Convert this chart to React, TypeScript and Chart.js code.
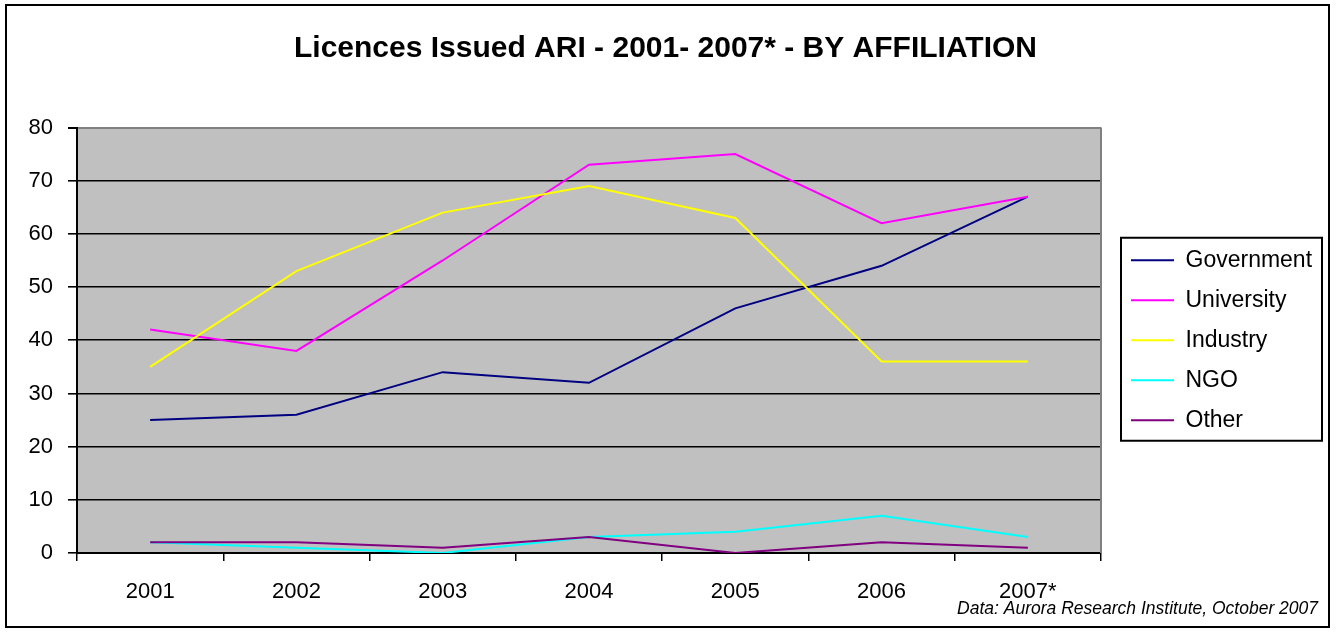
import React, { useEffect, useRef } from 'react';
import { Chart, registerables } from 'chart.js';

Chart.register(...registerables);

const categories = ['2001', '2002', '2003', '2004', '2005', '2006', '2007*'];
const government = [25, 26, 34, 32, 46, 54, 67];
const university = [42, 38, 55, 73, 75, 62, 67];
const industry = [35, 53, 64, 69, 63, 36, 36];
const ngo = [2, 1, 0, 3, 4, 7, 3];
const other = [2, 2, 1, 3, 0, 2, 1];
const seriesNames = ['Government', 'University', 'Industry', 'NGO', 'Other'];
const seriesColors = ['#000080', '#FF00FF', '#FFFF00', '#00FFFF', '#800080'];
const yMin = 0;
const yMax = 80;
const yStep = 10;
const titleText = 'Licences Issued ARI - 2001- 2007* - BY AFFILIATION';
const sourceNote = 'Data: Aurora Research Institute, October 2007';

const FONT = "'Liberation Sans', Arial, Helvetica, sans-serif";

const framePlugin = {
  id: 'frame',
  beforeDraw(chart: any) {
    const { ctx, chartArea } = chart;
    ctx.save();
    ctx.fillStyle = '#FFFFFF';
    ctx.fillRect(0, 0, chart.width, chart.height);
    ctx.fillStyle = '#C0C0C0';
    ctx.fillRect(chartArea.left, chartArea.top, chartArea.right - chartArea.left, chartArea.bottom - chartArea.top);
    ctx.restore();
  },
  afterDraw(chart: any) {
    const { ctx, chartArea } = chart;
    ctx.save();
    // plot area right border (grey)
    ctx.strokeStyle = '#808080';
    ctx.lineWidth = 2;
    ctx.beginPath();
    ctx.moveTo(chartArea.right, chartArea.top);
    ctx.lineTo(chartArea.right, chartArea.bottom);
    ctx.stroke();
    // outer border
    ctx.strokeStyle = '#000000';
    ctx.lineWidth = 2;
    ctx.strokeRect(6, 5, chart.width - 15, chart.height - 10);
    // legend border
    const lg = chart.legend;
    if (lg && lg.legendHitBoxes && lg.legendHitBoxes.length) {
      const hb = lg.legendHitBoxes;
      let maxRight = 0;
      hb.forEach((h: any) => { maxRight = Math.max(maxRight, h.left + h.width); });
      const l = hb[0].left - 10;
      const t = hb[0].top - 11;
      const last = hb[hb.length - 1];
      const b = last.top + last.height + 9;
      ctx.lineWidth = 2;
      ctx.strokeStyle = '#000000';
      ctx.strokeRect(l, t, Math.max(maxRight + 7, 1322) - l, b - t);
    }
    // source note
    ctx.fillStyle = '#000000';
    ctx.font = `italic 17.5px ${FONT}`;
    ctx.textAlign = 'right';
    ctx.textBaseline = 'middle';
    ctx.fillText(sourceNote, 1318, 609);
    ctx.restore();
  },
};

export default function App() {
  const canvasRef = useRef<HTMLCanvasElement | null>(null);

  useEffect(() => {
    if (!canvasRef.current) return;
    const series = [government, university, industry, ngo, other];
    const chart = new Chart(canvasRef.current, {
      type: 'line',
      data: {
        labels: categories,
        datasets: series.map((d, i) => ({
          label: seriesNames[i],
          data: d,
          borderColor: seriesColors[i],
          backgroundColor: seriesColors[i],
          borderWidth: 2,
          pointRadius: 0,
          pointHoverRadius: 0,
          tension: 0,
          fill: false,
          order: series.length - 1 - i,
        })),
      },
      options: {
        responsive: false,
        maintainAspectRatio: false,
        devicePixelRatio: 1,
        animation: false,
        events: [],
        layout: { padding: { left: 12, right: 19, top: 0, bottom: 0 } },
        font: { family: FONT },
        plugins: {
          tooltip: { enabled: false },
          title: {
            display: true,
            text: titleText,
            color: '#000000',
            font: { family: FONT, size: 30, weight: 'bold' },
            padding: { top: 31, bottom: 60.5 },
          },
          legend: {
            display: true,
            position: 'right',
            align: 'center',
            fullSize: false,
            maxWidth: 205,
            labels: {
              usePointStyle: true,
              pointStyle: 'line',
              pointStyleWidth: 43,
              color: '#000000',
              font: { family: FONT, size: 23 },
              padding: 17,
              sort: (a: any, b: any) => a.datasetIndex - b.datasetIndex,
            },
          },
        },
        scales: {
          x: {
            type: 'category',
            offset: true,
            grid: {
              offset: true,
              drawOnChartArea: false,
              drawTicks: true,
              tickLength: 8,
              color: '#000000',
              lineWidth: 1.5,
            },
            border: { display: true, color: '#000000', width: 2 },
            ticks: {
              color: '#000000',
              font: { family: FONT, size: 22 },
              padding: 18,
              maxRotation: 0,
              autoSkip: false,
            },
            afterFit: (s: any) => { s.height = 79; },
          },
          y: {
            type: 'linear',
            min: yMin,
            max: yMax,
            grid: {
              color: (c: any) => (c.tick && c.tick.value === yMax ? '#808080' : '#000000'),
              tickColor: '#000000',
              tickLength: 9,
              lineWidth: (c: any) => (c.tick && c.tick.value === yMax ? 2 : 1.6),
            },
            border: { display: true, color: '#000000', width: 2 },
            ticks: {
              stepSize: yStep,
              color: '#000000',
              font: { family: FONT, size: 22 },
              padding: 15,
            },
            afterFit: (s: any) => { s.width = 65; },
          },
          pad: {
            type: 'linear',
            position: 'right',
            display: true,
            grid: { display: false, drawTicks: false },
            border: { display: false },
            ticks: { display: false },
            afterFit: (s: any) => { s.width = 13; },
          },
        },
      },
      plugins: [framePlugin],
    } as any);
    return () => chart.destroy();
  }, []);

  return (
    <div style={{ position: 'fixed', left: 0, top: 0, width: 1338, height: 632, background: '#fff' }}>
      <canvas ref={canvasRef} width={1338} height={632} style={{ display: 'block' }} />
    </div>
  );
}
